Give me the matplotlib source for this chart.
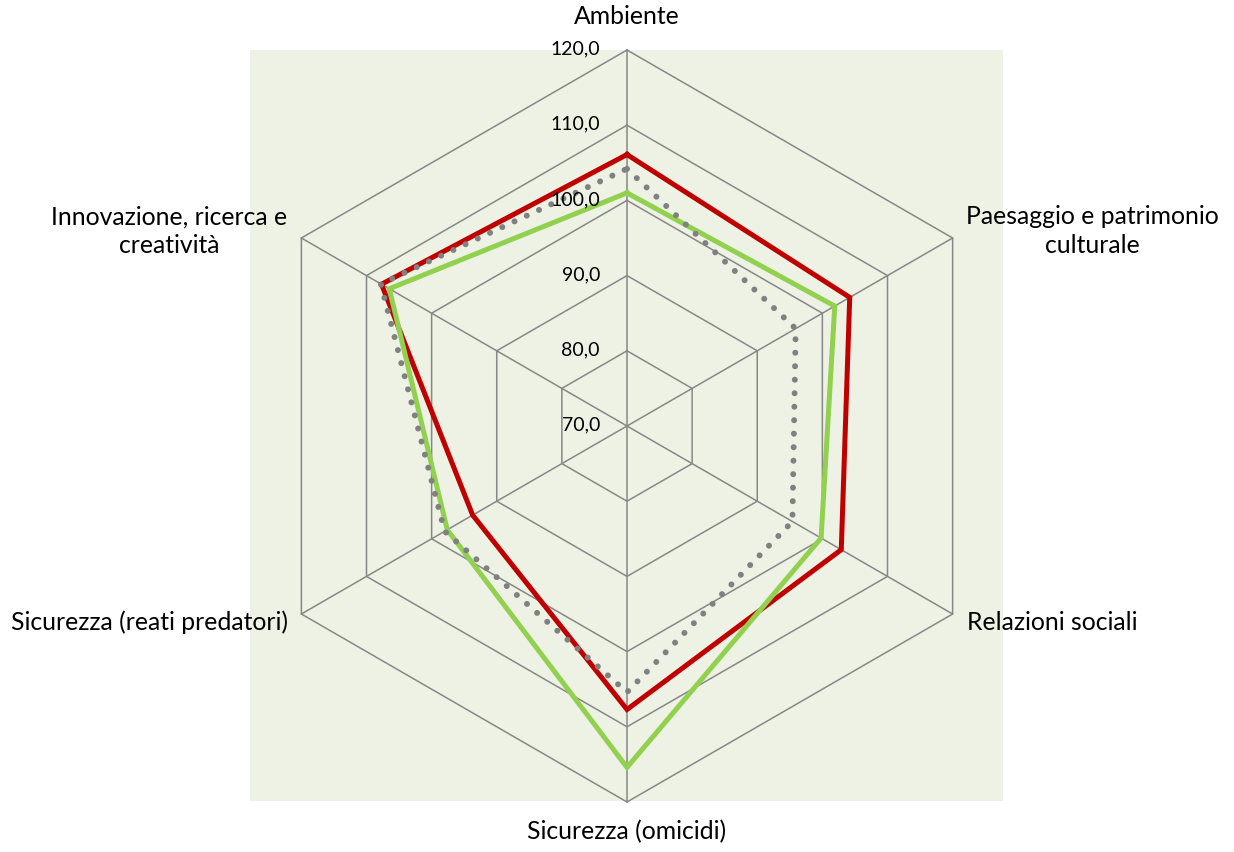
import numpy as np
import matplotlib
matplotlib.use('Agg')
import matplotlib.pyplot as plt
from matplotlib.patches import Rectangle

# chart data
categories = ['Ambiente', 'Paesaggio e patrimonio\nculturale', 'Relazioni sociali',
              'Sicurezza (omicidi)', 'Sicurezza (reati predatori)',
              'Innovazione, ricerca e\ncreatività']
rings = [70, 80, 90, 100, 110, 120]
ring_labels = ['70,0', '80,0', '90,0', '100,0', '110,0', '120,0']
red_values = [106.1, 104.2, 102.9, 107.7, 93.7, 107.7]
green_values = [101.0, 101.9, 99.8, 115.4, 97.6, 106.5]
grey_values = [104.2, 95.9, 95.4, 105.4, 98.0, 107.8]

plt.rcParams['font.family'] = ['Lato', 'DejaVu Sans']

W, H = 1234, 852
fig = plt.figure(figsize=(W / 100, H / 100), dpi=100)
fig.patches.append(Rectangle((250 / W, 51 / H), 753 / W, 751 / H, transform=fig.transFigure,
                             facecolor='#EEF2E4', edgecolor='none', zorder=-10))

ax = fig.add_axes([251 / W, 50 / H, 752 / W, 752 / H], projection='polar')
ax.patch.set_visible(False)
ax.set_theta_zero_location('N')
ax.set_theta_direction(-1)
ax.set_ylim(70, 120)
ax.grid(False)
ax.spines['polar'].set_visible(False)
ax.set_xticks([])
ax.set_yticks([])

angles = np.deg2rad(np.arange(len(categories)) * 60)
closed = np.append(angles, angles[0])

def close(v):
    return list(v) + [v[0]]

grid_col = '#878787'
for r in rings[1:]:
    ax.plot(closed, [r] * len(closed), color=grid_col, lw=1.1, clip_on=False, zorder=1)
for a in angles:
    ax.plot([a, a], [70, 120], color=grid_col, lw=1.1, clip_on=False, zorder=1)

for r, lbl in zip(rings, ring_labels):
    ax.annotate(lbl, xy=(0, r), xytext=(-27, 1), textcoords='offset pixels',
                ha='right', va='center', fontsize=14, color='#000000', zorder=5)

ax.plot(closed, close(red_values), color='#C00000', lw=3.6, solid_joinstyle='miter',
        clip_on=False, zorder=3)
ax.plot(closed, close(green_values), color='#92D050', lw=3.6, solid_joinstyle='miter',
        clip_on=False, zorder=3)
ax.plot(closed, close(grey_values), color='#808080', lw=4.3, linestyle=(0, (0.01, 2.25)),
        dash_capstyle='round', clip_on=False, zorder=4)

# category labels: offset in pixels from the outer vertex, alignment
label_pos = [((0, 34), 'center'), ((140, 7), 'center'), ((14, -8), 'left'),
             ((0, -30), 'center'), ((-13, -8), 'right'), ((-132, 7), 'center')]
for a, txt, (off, ha) in zip(angles, categories, label_pos):
    ax.annotate(txt, xy=(a, 120), xytext=off, textcoords='offset pixels',
                ha=ha, va='center', multialignment='center', linespacing=1.3,
                fontsize=17.8, color='#000000')

fig.savefig('out.png', dpi=100, facecolor='white')
